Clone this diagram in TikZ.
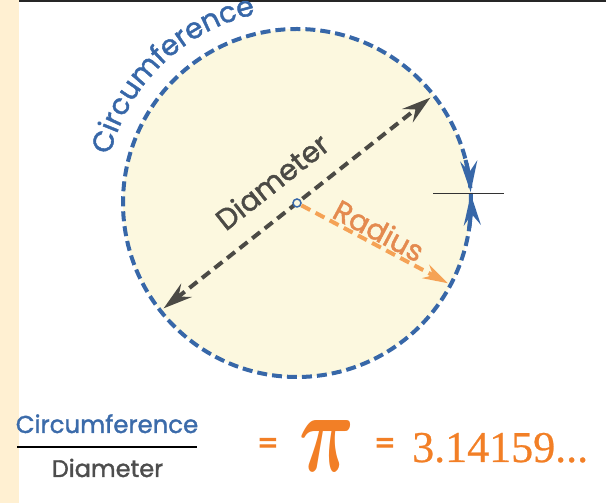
\documentclass[tikz,border=0pt]{standalone}
\usepackage{amsmath}
\usepackage{fontspec}
\setmainfont{Poppins}[FakeBold=1.5]
\newfontfamily\eqfont{Poppins}[FakeBold=3]
\newfontfamily\numfont{Liberation Serif}[FakeBold=0.6]
\usetikzlibrary{arrows.meta,decorations.text}
\definecolor{cblue}{HTML}{3767A8}
\definecolor{dgray}{HTML}{4B4A45}
\definecolor{rline}{HTML}{F5A255}
\definecolor{rtext}{HTML}{E48A4F}
\definecolor{cfill}{HTML}{FCF8DF}
\definecolor{stripc}{HTML}{FFF0D2}
\definecolor{piorange}{HTML}{F27F26}
\definecolor{nblue}{HTML}{3B6BAA}
\definecolor{dengray}{HTML}{4D4D4D}
\tikzset{
  circline/.style={cblue, line width=4pt, dash pattern=on 10pt off 5pt},
  diamline/.style={dgray, line width=4pt, dash pattern=on 10pt off 6pt},
  radline/.style={rline, line width=4pt, dash pattern=on 10pt off 6pt},
  dhead/.tip={Stealth[length=29pt,width=17pt,inset=10pt]},
  rhead/.tip={Stealth[length=25pt,width=15pt,inset=8pt]},
  bhead/.tip={Stealth[length=31pt,width=17pt,inset=11pt]},
  lbl/.style={inner sep=0pt, font=\fontsize{#1}{#1}\selectfont},
}
\begin{document}
\begin{tikzpicture}[x=1pt,y=1pt]
\useasboundingbox (0,0) rectangle (606,503);
\fill[stripc] (0,0) rectangle (19,503);
\coordinate (tl) at (19,502);
\coordinate (tr) at (606,502);
\draw[black!85, line width=2.5pt] (tl) -- (tr);

\coordinate (O) at (297,300);
\fill[cfill] (O) circle[radius=174];
\draw[circline] (O) circle[radius=174];

% curved label
\path[decorate, decoration={text along path, text={|\fontsize{28.5}{28.5}\selectfont|Circumference}, text align=center, text color=cblue}]
  (O) ++(179:193) arc[start angle=179, end angle=89, radius=193];

% diameter
\path (O) ++(38.3:170) coordinate (D1);
\path (O) ++(218.3:170) coordinate (D2);
\draw[diamline, {dhead}-{dhead}] (D2) -- (D1);
\node[lbl=29, anchor=base, rotate=38.3, text=dgray] (dlab) at (278.7,313) {Diameter};

% radius
\path (O) ++(-28:171) coordinate (R1);
\path (O) ++(-28:5) coordinate (R0);
\draw[radline, -{rhead}] (R0) -- (R1);
\node[lbl=29, anchor=base, rotate=-28, text=rtext] (rlab) at (374,263) {Radius};

% centre mark
\node[circle, draw=cblue, line width=1.5pt, fill=cfill, minimum size=8pt, inner sep=0pt] (ctr) at (O) {};

% blue arrows on circumference
\path (O) ++(14.3:174) coordinate (ua);
\path (O) ++(-8.3:174) coordinate (la);
\draw[cblue, line width=4pt, -{bhead}] (ua) arc[start angle=14.3, end angle=3.6, radius=174];
\draw[cblue, line width=4pt, -{bhead}] (la) arc[start angle=-8.3, end angle=2.9, radius=174];
\coordinate (t1) at (433,309.7);
\coordinate (t2) at (504,309.7);
\draw[black!80, line width=1.5pt] (t1) -- (t2);

% formula
\node[lbl=24.4, anchor=base, text=nblue] (num) at (107,70) {Circumference};
\coordinate (b1) at (17,56);
\coordinate (b2) at (197,56);
\draw[black, line width=2pt] (b1) -- (b2);
\node[lbl=24, anchor=base, text=dengray] (den) at (107.5,26) {Diameter};
\node[inner sep=0pt, text=piorange, font=\eqfont\fontsize{30}{30}\selectfont] (eq1) at (268,57) {=};
\node[inner sep=0pt, text=piorange] (pi) at (327.5,57.5) {\resizebox{55pt}{51pt}{$\boldsymbol{\pi}$}};
\node[inner sep=0pt, text=piorange, font=\eqfont\fontsize{30}{30}\selectfont] (eq2) at (385,57) {=};
\node[inner sep=0pt, anchor=base west, text=piorange, font=\numfont\fontsize{44}{44}\selectfont] (val) at (412,41) {3.14159...};
\end{tikzpicture}
\end{document}
